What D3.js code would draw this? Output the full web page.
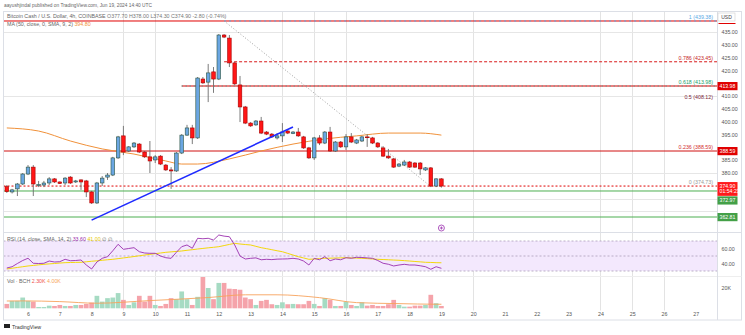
<!DOCTYPE html>
<html><head><meta charset="utf-8">
<script src="https://cdn.jsdelivr.net/npm/d3@7"></script>
<style>body{margin:0;background:#fff}svg{display:block}text{font-family:"Liberation Sans",Arial,sans-serif}</style>
</head><body><svg id="c" width="745" height="335"></svg>
<script>
// ---------- DATA ----------
const startTime = Date.UTC(2024,5,5,8);   // first 4h candle
const stepHours = 4;
const opens  = [374.65,372.6,373.8,375.7,379.6,382.3,375.1,375.3,376.1,377.7,376.5,376.1,378.4,376.5,377.3,376.9,372.6,368.3,376.1,378.4,379.2,385.9,394.5,388.6,390.2,391.3,388.2,386.3,385.1,386.6,383.1,381.2,380.8,387.8,394.8,397.6,393.7,416.7,415.5,419.5,416.7,433.9,432.7,423.0,414.4,405.8,399.5,398.8,400.3,396.0,395.2,393.7,394.5,396.4,395.4,396.0,394.1,389.8,385.9,393.7,391.7,396.0,388.6,392.1,390.2,394.1,391.7,392.5,394.1,393.7,391.7,389.8,386.6,385.5,382.7,383.1,384.3,383.9,383.9,381.2,382.0,374.9,377.7];
const highs  = [375.3,373.8,376.1,380.0,383.1,383.1,376.9,376.9,378.4,378.0,376.7,378.4,378.8,377.3,377.5,377.3,373.0,376.5,378.8,380.0,386.3,394.5,398.4,390.5,392.1,391.7,388.6,392.5,387.0,387.0,383.5,382.3,388.2,395.2,398.8,398.8,417.5,417.5,422.6,421.4,434.3,434.3,433.9,423.4,417.9,406.2,399.9,400.7,401.9,396.4,395.6,395.6,399.5,396.8,396.4,397.6,394.5,390.2,394.1,394.8,396.4,398.0,392.5,392.5,395.2,395.6,393.3,394.5,395.2,394.1,392.1,390.5,389.4,385.9,383.9,385.1,384.7,384.3,384.3,382.3,382.3,378.0,378.0];
const lows   = [372.2,372.0,371.0,375.3,379.2,371.0,374.5,374.5,375.3,376.1,375.7,375.3,375.7,376.1,373.4,370.6,367.9,367.9,374.9,377.3,378.8,385.5,387.0,388.2,389.8,387.8,385.9,380.0,383.9,383.1,380.8,373.8,380.4,387.4,394.5,391.3,393.3,414.8,407.7,411.3,416.3,432.7,421.4,414.4,399.9,399.1,398.0,398.4,395.2,394.8,393.7,393.1,392.1,395.2,395.2,394.1,389.4,385.5,385.1,390.9,391.3,388.2,388.2,389.8,389.0,391.7,391.3,392.1,390.2,391.3,389.8,386.3,385.5,382.0,382.3,382.7,382.0,382.0,379.2,380.8,374.5,374.5,374.3];
const closes = [372.7,373.4,375.7,379.6,382.3,375.7,375.5,376.1,377.7,376.5,375.9,378.0,376.1,376.9,376.5,372.6,368.3,376.1,378.0,379.2,385.9,394.1,388.2,390.2,391.7,388.2,386.3,384.7,386.3,383.5,381.2,380.8,387.8,394.8,397.6,393.7,417.1,415.2,419.1,416.7,433.9,433.1,423.0,414.8,405.8,399.5,398.4,400.3,395.6,395.2,394.1,394.5,396.0,395.6,396.0,394.5,389.8,385.9,393.7,391.7,396.0,388.6,392.1,390.2,394.1,392.1,392.9,394.1,393.8,391.7,390.2,386.6,385.9,382.3,383.5,384.3,382.3,382.3,381.6,382.0,374.9,377.7,374.9];
const volumes = [4.3,7.3,7.3,10.6,7.3,6.6,1.3,1.3,2.6,2.3,3.3,2.3,2.3,3.3,3.3,4.3,5.6,12.3,6.6,10,10.6,15,8.3,3.3,5.9,12.3,6.6,12.3,3.3,2.3,4.3,10,9,16.6,9,3.3,11.3,31.3,20,9,25,25,19.3,19,18.3,10.6,9,3.3,7.3,8.3,4,3.3,5.9,4,4.3,4,4,7.3,4.3,2.3,10,8.3,2.3,2.3,6.6,3.3,2.3,5.9,2.6,3.3,2.3,2.3,4,8.3,3.3,1.6,1.6,2.6,2.6,3.3,13.3,5,2.3];
const rsiValues = [34,35.7,40,44,47,40.3,40,40.3,43.3,42,42.4,45.6,43.7,44,44.7,38,32.7,42,46.9,49.1,57,65.6,58.9,60,61.1,55.7,54,53.6,53.6,50,47.7,46.9,55,62.4,64.7,60.3,73.6,73,73.6,71.3,78,76.5,75.7,64.7,50,46,46.9,47.5,45,45.6,45.2,45.8,46,46.2,46.9,46,43.3,38,46.9,45,49.1,43.7,46,45,47.7,47,48.3,48,47.5,46.9,44,40.3,39,36.7,38,38.9,38,38,37,35.7,32.3,35.7,33.6];
const rsiMaValues = [32.7,33.7,34.7,35.7,36.7,37.4,38.2,38.9,39.5,40,40.6,41.1,41.3,41.5,41.6,42.3,43,43.6,44.3,45,45.6,46.5,47.4,48.3,49.3,50.3,51.3,52.2,53.1,54,54.9,55.5,56.1,56.7,57.6,58.4,59.3,60.1,60.9,61.6,62.4,63.9,65.4,66.9,66,65.3,64.7,62.9,61.1,59.8,58.4,57,55.7,53.5,51.3,49.1,47.4,45.6,46,46.5,46.9,47.1,47.3,47.5,47.7,47.4,47.2,46.9,46.5,46,45.6,45.3,45,44.6,44.3,43.8,43.3,42.7,42.2,41.6,41.4,41.1,41];
const maIdx    = [0,6,12,18,24,30,33,36,42,48,54,60,66,72,78,82];
const maValues = [397.6,396.4,392.5,389.4,387.4,384.7,383.5,383.5,385.5,388.6,391.3,393.3,394.5,395.6,395.6,394.8];
const volMaIdx    = [0,3,10,17,27,38,45,51,59,66,74,81,82];
const volMaValues = [7.2,7.3,6.6,5,7.6,10.6,13.3,13.3,10.5,5.6,4.6,4,4];
const dayTicks = [6,7,8,9,10,11,12,13,14,15,16,17,18,19,20,21,22,23,24,25,26,27];
const vLineDays = [9,10,14,15,16,20,24,25,26];
const priceTicks = [360,365,370,375,380,385,390,395,400,405,410,415,420,425,430,435,440];
const gridPrices = [435,410,380,370,365];
const rsiTicks = [60,40];
const rsiBands = [70,50,30];
const volTicks = [20];
const fibLevels = [1,0.786,0.618,0.5,0.236,0];
const fibPrices = [439.38,423.45,413.98,408.12,388.59,374.73];
const fibColors = ["#5aa9e6","#c62828","#22a06b","#7b1f3a","#d32f2f","#9a9a9a"];
const supportPrices = [372.97,362.81];
const fibTrend = [[41,439.38],[80,374.73]];
const blueTrend = [[16,361.6],[54,398.0]];

// ---------- SETUP ----------
const svg = d3.select('#c');
const W=745,H=335, L=3.5, PR=717.5, AR=741.5;
const mainTop=11.5, mainBot=232.5, rsiBot=276.5, volBot=310.5, axBot=320;
const n = opens.length;
const tOf = i => new Date(startTime + i*stepHours*3600e3);
const x = d3.scaleUtc().domain([new Date(Date.UTC(2024,5,6)), new Date(Date.UTC(2024,5,27))]).range([28,695.8]);
const y = d3.scaleLinear().domain([360,440]).range([224.2,19.4]);
const yR = d3.scaleLinear().domain([30,70]).range([271,241]);
const yV = d3.scaleLinear().domain([0,20]).range([308.3,288]);
const fs = 5.3;
const fmt = v => v.toFixed(2);
const candles = opens.map((o,i)=>({i,t:tOf(i),o,h:highs[i],l:lows[i],c:closes[i],v:volumes[i]}));

svg.append('rect').attr('width',W).attr('height',H).attr('fill','#fff');
const defs = svg.append('defs');
function clip(id,y0,y1){defs.append('clipPath').attr('id',id).append('rect').attr('x',L).attr('y',y0).attr('width',PR-L).attr('height',y1-y0);}
clip('cm',mainTop,mainBot); clip('cr',mainBot,rsiBot); clip('cv',rsiBot,volBot);

// header
svg.append('text').attr('x',4).attr('y',7).attr('font-size',4.8).attr('fill','#666')
  .text('aayushjindal published on TradingView.com, Jun 19, 2024 14:40 UTC');

// vertical day lines
svg.append('g').selectAll('line').data(vLineDays).join('line')
  .attr('x1',d=>Math.round(x(new Date(Date.UTC(2024,5,d))))+0.5).attr('x2',d=>Math.round(x(new Date(Date.UTC(2024,5,d))))+0.5)
  .attr('y1',mainTop).attr('y2',volBot).attr('stroke','#e3e3e3').attr('stroke-width',1);

// ---------- MAIN PANE ----------
const main = svg.append('g').attr('clip-path','url(#cm)');
main.selectAll('line.grid').data(gridPrices).join('line').attr('class','grid')
  .attr('x1',L).attr('x2',PR).attr('y1',d=>Math.round(y(d))+0.5).attr('y2',d=>Math.round(y(d))+0.5)
  .attr('stroke','#e6e6e6');

function hline(price,x0,stroke,dash,w){
  main.append('line').attr('x1',x0).attr('x2',PR).attr('y1',y(price)).attr('y2',y(price))
   .attr('stroke',stroke).attr('stroke-width',w||1).attr('stroke-dasharray',dash||null);
}
hline(fibPrices[0],L,'#e00000');
hline(fibPrices[0],x(tOf(fibTrend[0][0])),'#5aa9e6',"2,3");
hline(fibPrices[1],x(tOf(fibTrend[0][0])),'#d81b1b',"3,2");
hline(fibPrices[2],x(tOf(33)),'#e00000');
hline(fibPrices[2],x(tOf(33)),'#26a69a',"1,3");
hline(fibPrices[4],L,'#d01010');
hline(supportPrices[0],L,'#4caf50');
hline(supportPrices[1],L,'#4caf50');
hline(closes[n-1],L,'#e00000',"2,2");

main.append('line').attr('x1',x(tOf(fibTrend[0][0]))).attr('y1',y(fibTrend[0][1]))
  .attr('x2',x(tOf(fibTrend[1][0]))).attr('y2',y(fibTrend[1][1]))
  .attr('stroke','#9e9e9e').attr('stroke-width',1).attr('stroke-dasharray','1,2');

main.append('path').datum(maIdx.map((d,k)=>[d,maValues[k]]))
  .attr('d',d3.line().curve(d3.curveMonotoneX).x(d=>x(tOf(d[0]))).y(d=>y(d[1])))
  .attr('fill','none').attr('stroke','#f0913a').attr('stroke-width',1);

main.selectAll('text.fib').data(fibLevels).join('text').attr('class','fib')
  .attr('x',713).attr('y',(d,k)=>y(fibPrices[k])-2).attr('text-anchor','end').attr('font-size',fs)
  .attr('fill',(d,k)=>fibColors[k]).text((d,k)=>`${d} (${fibPrices[k].toFixed(2)})`);

const cw=3.6;
const cg = main.append('g');
cg.selectAll('line.w').data(candles).join('line').attr('class','w')
  .attr('x1',d=>x(d.t)).attr('x2',d=>x(d.t)).attr('y1',d=>y(d.h)).attr('y2',d=>y(d.l))
  .attr('stroke','#6d6d6d').attr('stroke-width',0.9);
cg.selectAll('rect').data(candles).join('rect')
  .attr('x',d=>x(d.t)-cw/2).attr('width',cw)
  .attr('y',d=>y(Math.max(d.o,d.c))).attr('height',d=>Math.max(0.8,Math.abs(y(d.o)-y(d.c))))
  .attr('fill',d=>d.c>=d.o?'#6aa6e2':'#ff1616')
  .attr('stroke',d=>d.c>=d.o?'#2f5540':'#a80000').attr('stroke-width',0.6);

main.append('line').attr('x1',x(tOf(blueTrend[0][0]))).attr('y1',y(blueTrend[0][1]))
  .attr('x2',x(tOf(blueTrend[1][0]))).attr('y2',y(blueTrend[1][1]))
  .attr('stroke','#1f2bff').attr('stroke-width',1.6);

// legends
const last = candles[n-1], prev = candles[n-2];
const chg = last.c-prev.c;
const lg = svg.append('text').attr('x',7).attr('y',18).attr('font-size',fs).attr('fill','#666');
lg.append('tspan').text('Bitcoin Cash / U.S. Dollar, 4h, COINBASE  ');
lg.append('tspan').attr('fill','#777').text(`O${fmt(last.o)} H${fmt(last.h)} L${fmt(last.l)} C${fmt(last.c)} ${chg.toFixed(2)} (${(chg/prev.c*100).toFixed(2)}%)`);
const lg2 = svg.append('text').attr('x',7).attr('y',26).attr('font-size',fs).attr('fill','#666');
lg2.append('tspan').text('MA (50, close, 0, SMA, 9, 2)  ');
lg2.append('tspan').attr('fill','#f0913a').text(fmt(maValues[maValues.length-1]));

// ---------- RSI PANE ----------
const rg = svg.append('g').attr('clip-path','url(#cr)');
rg.append('rect').attr('x',L).attr('width',PR-L).attr('y',yR(70)).attr('height',yR(30)-yR(70)).attr('fill','#f3e8fd');
rg.selectAll('line.b').data(rsiBands).join('line').attr('class','b')
  .attr('x1',L).attr('x2',PR).attr('y1',d=>yR(d)).attr('y2',d=>yR(d))
  .attr('stroke','#a99cb8').attr('stroke-dasharray','2,2').attr('stroke-width',0.8);
rg.append('path').datum(rsiMaValues).attr('d',d3.line().x((d,i)=>x(tOf(i))).y(d=>yR(d)))
  .attr('fill','none').attr('stroke','#f2d70c').attr('stroke-width',1);
rg.append('path').datum(rsiValues).attr('d',d3.line().x((d,i)=>x(tOf(i))).y(d=>yR(d)))
  .attr('fill','none').attr('stroke','#9b2fae').attr('stroke-width',0.9);
const rl = svg.append('text').attr('x',7).attr('y',241).attr('font-size',fs).attr('fill','#666');
rl.append('tspan').text('RSI (14, close, SMA, 14, 2)  ');
rl.append('tspan').attr('fill','#9b2fae').text(rsiValues[n-1].toFixed(2)+'  ');
rl.append('tspan').attr('fill','#e6c800').text(rsiMaValues[n-1].toFixed(2)+'  ');
rl.append('tspan').text('∅  ∅');
svg.append('circle').attr('cx',x(tOf(n-1))).attr('cy',228).attr('r',3).attr('fill','#fff').attr('stroke','#9b2fae').attr('stroke-width',0.8);
svg.append('path').attr('d',`M${x(tOf(n-1))-1.5},228h3M${x(tOf(n-1))},226.5v3`).attr('stroke','#9b2fae').attr('stroke-width',0.8);

// ---------- VOLUME PANE ----------
const vg = svg.append('g').attr('clip-path','url(#cv)');
vg.selectAll('rect').data(candles).join('rect')
  .attr('x',d=>x(d.t)-2.35).attr('width',4.7).attr('y',d=>yV(d.v)).attr('height',d=>yV(0)-yV(d.v))
  .attr('fill',d=>d.c>=d.o?'#a6dbc3':'#f5a3aa');
vg.append('path').datum(volMaIdx.map((d,k)=>[d,volMaValues[k]]))
  .attr('d',d3.line().curve(d3.curveMonotoneX).x(d=>x(tOf(d[0]))).y(d=>yV(d[1])))
  .attr('fill','none').attr('stroke','#f7a35c').attr('stroke-width',0.9);
const vl = svg.append('text').attr('x',7).attr('y',283).attr('font-size',fs).attr('fill','#666');
vl.append('tspan').text('Vol · BCH  ');
vl.append('tspan').attr('fill','#ef5350').text(volumes[n-1].toFixed(2)+'K  ');
vl.append('tspan').attr('fill','#f7a35c').text(volMaValues[volMaValues.length-1].toFixed(2)+'K');

// ---------- FRAME ----------
const fr = svg.append('g').attr('stroke','#dcdfe6').attr('fill','none');
fr.append('rect').attr('x',L).attr('y',mainTop).attr('width',AR-L).attr('height',axBot-mainTop);
fr.append('line').attr('x1',L).attr('x2',AR).attr('y1',mainBot).attr('y2',mainBot);
fr.append('line').attr('x1',L).attr('x2',AR).attr('y1',rsiBot).attr('y2',rsiBot).attr('stroke','#eeeeee');
fr.append('line').attr('x1',PR).attr('x2',PR).attr('y1',mainTop).attr('y2',axBot);

// ---------- AXES ----------
const boxes = [
  {p:fibPrices[2],fill:'#e00000',lines:[fmt(fibPrices[2])]},
  {p:fibPrices[4],fill:'#e00000',lines:[fmt(fibPrices[4])]},
  {p:closes[n-1],fill:'#ff1a1a',lines:[fmt(closes[n-1]),'01:54:21']},
  {p:supportPrices[0],fill:'#43a047',lines:[fmt(supportPrices[0])]},
  {p:supportPrices[1],fill:'#43a047',lines:[fmt(supportPrices[1])]}
];
let prevBottom=-1e9;
boxes.sort((a,b)=>y(a.p)-y(b.p)).forEach(b=>{
  const h = b.lines.length*5.6+2.6;
  let top = y(b.p)-4;
  if(top<prevBottom+0.5) top=prevBottom+0.5;
  b.top=top; b.h=h; prevBottom=top+h;
});
const hidden = v => boxes.some(b=>y(v)>b.top-3 && y(v)<b.top+b.h+3) || y(v)<24;
const styleAx = g => { g.select('.domain').remove(); g.selectAll('text').attr('font-size',fs).attr('fill','#555').attr('font-family','"Liberation Sans",Arial,sans-serif'); };
svg.append('g').attr('transform',`translate(${PR},0)`)
  .call(d3.axisRight(y).tickValues(priceTicks.filter(v=>!hidden(v))).tickFormat(d3.format('.2f')).tickSize(0).tickPadding(4)).call(styleAx);

const bg = svg.append('g');
boxes.forEach(b=>{
  bg.append('rect').attr('x',PR).attr('y',b.top).attr('width',20).attr('height',b.h).attr('fill',b.fill);
  b.lines.forEach((t,k)=>bg.append('text').attr('x',PR+2).attr('y',b.top+5.6*(k+1)).attr('font-size',5.2).attr('fill','#fff').text(t));
});
svg.append('rect').attr('x',PR+0.5).attr('y',13).attr('width',17).attr('height',8).attr('fill','#fff').attr('stroke','#d0d0d0').attr('stroke-width',0.6);
svg.append('text').attr('x',PR+9).attr('y',19).attr('text-anchor','middle').attr('font-size',5).attr('fill','#444').text('USD');
svg.append('line').attr('x1',PR+1).attr('x2',PR+18).attr('y1',23.5).attr('y2',23.5).attr('stroke','#e00000').attr('stroke-width',1);

svg.append('g').attr('transform',`translate(${PR},0)`)
  .call(d3.axisRight(yR).tickValues(rsiTicks).tickFormat(d3.format('.2f')).tickSize(0).tickPadding(4)).call(styleAx);
svg.append('g').attr('transform',`translate(${PR},0)`)
  .call(d3.axisRight(yV).tickValues(volTicks).tickFormat(d=>d+'K').tickSize(0).tickPadding(4)).call(styleAx);
svg.append('g').attr('transform',`translate(0,${volBot})`)
  .call(d3.axisBottom(x).tickValues(dayTicks.map(d=>new Date(Date.UTC(2024,5,d)))).tickFormat(d=>d.getUTCDate()).tickSize(0).tickPadding(2)).call(styleAx);

svg.append('rect').attr('x',4).attr('y',324).attr('width',6).attr('height',4).attr('fill','#222');
svg.append('text').attr('x',12).attr('y',328.5).attr('font-size',5.3).attr('fill','#333').text('TradingView');
</script></body></html>
